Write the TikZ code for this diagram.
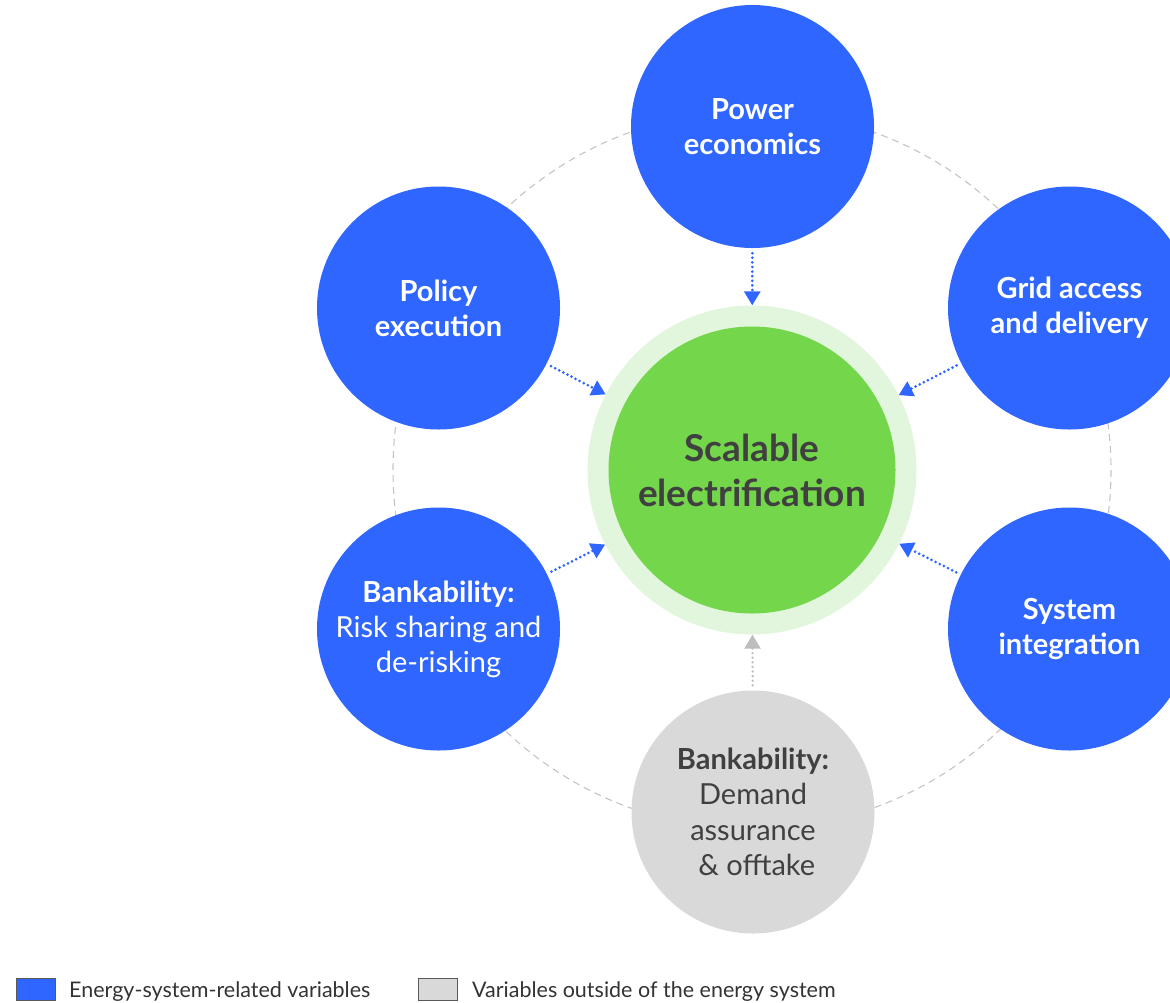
\documentclass[tikz,border=0pt]{standalone}
\usepackage{fontspec}
\setmainfont{Lato}
\usetikzlibrary{arrows.meta}
\definecolor{varblue}{HTML}{2E66FF}
\definecolor{coregreen}{HTML}{74D64B}
\definecolor{halogreen}{HTML}{E1F6DC}
\definecolor{outgray}{HTML}{D9D9D9}
\definecolor{ringgray}{HTML}{C4C4C4}
\definecolor{darktext}{HTML}{404040}
\definecolor{arrowgray}{HTML}{BDBDBD}
\begin{document}
\begin{tikzpicture}[x=1pt,y=-1pt,
  ring/.style={draw=ringgray, line width=1.1pt, dash pattern=on 7pt off 5pt},
  halo/.style={circle, fill=halogreen, minimum size=329pt, inner sep=0pt},
  core/.style={circle, fill=coregreen, minimum size=287pt, inner sep=0pt, align=center,
    text=darktext, font=\fontsize{37}{45}\selectfont\bfseries},
  driver/.style={circle, fill=varblue, minimum size=243pt, inner sep=0pt, align=center,
    text=white, font=\fontsize{29}{35}\selectfont},
  outside/.style={circle, fill=outgray, minimum size=243pt, inner sep=0pt, align=center,
    text=darktext, font=\fontsize{29}{35.5}\selectfont},
  link/.style={draw=varblue, line width=3pt, line cap=round, dash pattern=on 0pt off 4.6pt,
    -{Triangle[width=16pt,length=14pt,sharp]}, shorten <=5pt},
  extlink/.style={link, draw=arrowgray, line width=2.6pt},
  keybox/.style={draw=black!65, line width=0.8pt, minimum width=39pt, minimum height=22pt, inner sep=0pt},
  keytext/.style={anchor=base west, text=black!80, font=\fontsize{21.5}{25}\selectfont, inner sep=0pt}
]
\useasboundingbox (0,0) rectangle (1170,1002);
\clip (0,0) rectangle (1170,1002);

% dashed orbit through the six drivers
\draw[ring] (752,470) circle[radius=359];

% central outcome
\node[halo] (halo) at (752,470) {};
\node[core] (core) at (752,470) {Scalable\\electrification};

% drivers around the outcome
\node[driver] (power) at (752.5,126.5) {\bfseries Power\\\bfseries economics};
\node[driver] (policy) at (438.5,308) {\bfseries Policy\\\bfseries execution};
\node[driver] (grid) at (1069.5,308) {\bfseries Grid access\\\bfseries and delivery};
\node[driver] (risk) at (438.5,629) {\bfseries Bankability:\\Risk sharing and\\de-risking};
\node[driver] (system) at (1069.5,629) {\bfseries System\\\bfseries integration};
\node[outside] (demand) at (753,812) {\bfseries Bankability:\\Demand\\assurance\\\ \& offtake};

% influence arrows into the outcome
\draw[link] (power) -- (halo);
\draw[link] (policy) -- (halo);
\draw[link] (grid) -- (halo);
\draw[link] (risk) -- (halo);
\draw[link] (system) -- (halo);
\draw[extlink] (demand) -- (halo);

% key
\node[keybox, fill=varblue] (keyblue) at (35.5,989) {};
\node[keytext] (keyblueText) at (69,997) {Energy-system-related variables};
\node[keybox, fill=outgray] (keygray) at (437.5,989) {};
\node[keytext] (keygrayText) at (472,997) {Variables outside of the energy system};
\end{tikzpicture}
\end{document}
